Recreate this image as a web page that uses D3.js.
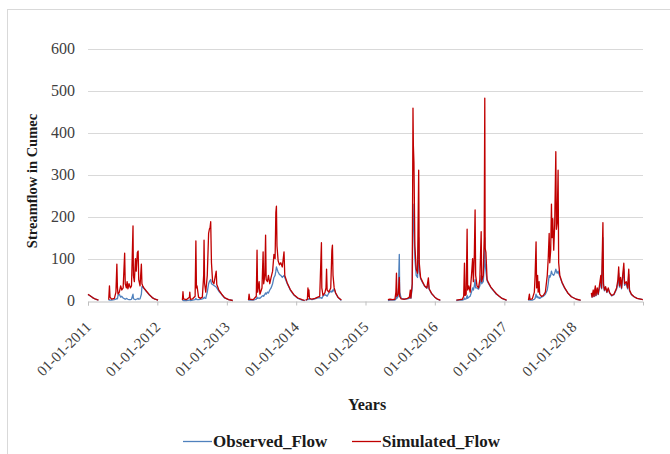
<!DOCTYPE html>
<html>
<head>
<meta charset="utf-8">
<script src="https://cdn.jsdelivr.net/npm/d3@7"></script>
<style>
  body { margin: 0; background: #fff; }
  svg { display: block; font-family: "Liberation Serif", "Times New Roman", serif; }
</style>
</head>
<body>
<div id="chart"></div>
<script>
// rows: [date, observed, simulated] (cumec) - one array per flow season, gaps between them
var season2011a = [
  ["2011-01-01", 14, 15], ["2011-01-10", 12, 12], ["2011-01-25", 7, 7], ["2011-02-10", 3, 3], ["2011-02-25", 1, 1]
];
var season2011b = [
  ["2011-04-20", 0, 2], ["2011-04-24", 2, 35], ["2011-04-27", 1, 8], ["2011-05-05", 1, 3], ["2011-05-20", 2, 5],
  ["2011-05-28", 3, 20], ["2011-06-02", 5, 87], ["2011-06-05", 4, 30], ["2011-06-08", 12, 15], ["2011-06-15", 15, 20],
  ["2011-06-22", 8, 35], ["2011-06-28", 10, 25], ["2011-07-05", 6, 30], ["2011-07-13", 4, 113], ["2011-07-16", 3, 40],
  ["2011-07-22", 5, 30], ["2011-07-26", 4, 45], ["2011-07-30", 3, 28], ["2011-08-05", 2, 40], ["2011-08-12", 2, 30],
  ["2011-08-18", 3, 35], ["2011-08-26", 15, 178], ["2011-08-28", 5, 60], ["2011-09-02", 3, 45], ["2011-09-08", 2, 100],
  ["2011-09-12", 3, 70], ["2011-09-18", 4, 115], ["2011-09-22", 5, 118], ["2011-09-25", 3, 50], ["2011-10-02", 4, 35],
  ["2011-10-09", 15, 87], ["2011-10-12", 33, 40], ["2011-10-16", 33, 35], ["2011-10-22", 29, 30], ["2011-11-05", 21, 22],
  ["2011-11-20", 13, 14], ["2011-12-05", 7, 7], ["2011-12-20", 3, 3], ["2012-01-05", 1, 1]
];
var season2012 = [
  ["2012-05-12", 0, 1], ["2012-05-15", 1, 21], ["2012-05-18", 0, 4], ["2012-06-01", 0, 2], ["2012-06-18", 1, 8],
  ["2012-06-20", 1, 20], ["2012-06-23", 0, 3], ["2012-07-05", 1, 4], ["2012-07-18", 2, 10], ["2012-07-22", 5, 142],
  ["2012-07-25", 3, 30], ["2012-07-28", 2, 35], ["2012-08-05", 2, 8], ["2012-08-15", 3, 5], ["2012-08-25", 4, 8],
  ["2012-09-01", 5, 60], ["2012-09-03", 8, 144], ["2012-09-06", 6, 40], ["2012-09-12", 5, 20], ["2012-09-20", 20, 60],
  ["2012-09-27", 40, 160], ["2012-10-01", 45, 170], ["2012-10-05", 48, 175], ["2012-10-08", 50, 188], ["2012-10-12", 40, 90],
  ["2012-10-18", 38, 45], ["2012-10-25", 36, 40], ["2012-11-06", 32, 70], ["2012-11-09", 30, 38], ["2012-11-20", 22, 25],
  ["2012-12-05", 14, 15], ["2012-12-20", 6, 7], ["2013-01-10", 2, 2], ["2013-02-01", 0, 0]
];
var season2013 = [
  ["2013-04-25", 0, 1], ["2013-04-28", 2, 15], ["2013-05-02", 1, 3], ["2013-05-20", 1, 2], ["2013-06-05", 3, 10],
  ["2013-06-09", 8, 120], ["2013-06-12", 5, 20], ["2013-06-20", 6, 45], ["2013-06-24", 5, 15], ["2013-07-05", 10, 30],
  ["2013-07-11", 12, 116], ["2013-07-14", 10, 40], ["2013-07-20", 15, 60], ["2013-07-24", 18, 156], ["2013-07-27", 15, 50],
  ["2013-08-03", 20, 45], ["2013-08-08", 18, 60], ["2013-08-15", 25, 40], ["2013-08-22", 30, 55], ["2013-08-30", 40, 70],
  ["2013-09-06", 55, 110], ["2013-09-12", 60, 100], ["2013-09-16", 70, 210], ["2013-09-19", 80, 225], ["2013-09-22", 75, 130],
  ["2013-09-28", 68, 95], ["2013-10-05", 62, 85], ["2013-10-12", 60, 90], ["2013-10-20", 55, 80], ["2013-10-29", 60, 116],
  ["2013-11-02", 55, 60], ["2013-11-15", 40, 42], ["2013-12-01", 25, 26], ["2013-12-20", 13, 14], ["2014-01-10", 5, 6],
  ["2014-02-01", 1, 2], ["2014-02-15", 0, 0]
];
var season2014 = [
  ["2014-02-20", 0, 1], ["2014-03-01", 2, 3], ["2014-03-04", 3, 30], ["2014-03-06", 4, 10], ["2014-03-09", 2, 25],
  ["2014-03-12", 4, 5], ["2014-03-25", 2, 3], ["2014-04-10", 4, 5], ["2014-04-25", 6, 8], ["2014-05-05", 7, 10],
  ["2014-05-14", 6, 138], ["2014-05-16", 5, 30], ["2014-05-22", 10, 12], ["2014-06-01", 14, 18], ["2014-06-07", 12, 30],
  ["2014-06-10", 12, 75], ["2014-06-13", 10, 25], ["2014-06-22", 18, 20], ["2014-07-02", 22, 30], ["2014-07-08", 20, 120],
  ["2014-07-11", 25, 132], ["2014-07-14", 22, 60], ["2014-07-20", 28, 30], ["2014-07-28", 17, 18], ["2014-08-10", 7, 7],
  ["2014-08-27", 0, 1]
];
var season2015 = [
  ["2015-04-29", 0, 2], ["2015-05-10", 1, 3], ["2015-05-25", 1, 2], ["2015-06-05", 1, 3], ["2015-06-10", 3, 20],
  ["2015-06-13", 10, 65], ["2015-06-15", 5, 10], ["2015-06-22", 10, 15], ["2015-06-28", 110, 55], ["2015-06-30", 20, 10],
  ["2015-07-08", 5, 4], ["2015-07-25", 3, 3], ["2015-08-10", 4, 5], ["2015-08-20", 5, 8], ["2015-08-25", 10, 25],
  ["2015-08-28", 5, 6], ["2015-09-04", 30, 40], ["2015-09-08", 230, 459], ["2015-09-10", 200, 370], ["2015-09-13", 180, 330],
  ["2015-09-18", 100, 130], ["2015-09-25", 60, 75], ["2015-10-02", 55, 65], ["2015-10-08", 150, 311], ["2015-10-11", 70, 90],
  ["2015-10-18", 52, 55], ["2015-10-28", 43, 45], ["2015-11-08", 34, 35], ["2015-11-20", 29, 30], ["2015-11-28", 40, 54],
  ["2015-12-02", 27, 28], ["2015-12-15", 16, 17], ["2016-01-01", 8, 8], ["2016-01-15", 3, 3], ["2016-01-30", 0, 1]
];
var season2016 = [
  ["2016-04-23", 0, 1], ["2016-05-10", 1, 2], ["2016-05-25", 1, 3], ["2016-06-01", 2, 10], ["2016-06-05", 6, 89],
  ["2016-06-08", 3, 12], ["2016-06-14", 4, 15], ["2016-06-19", 12, 170], ["2016-06-22", 5, 25], ["2016-06-28", 8, 35],
  ["2016-07-05", 10, 20], ["2016-07-12", 20, 60], ["2016-07-18", 30, 100], ["2016-07-22", 25, 45], ["2016-07-27", 35, 110],
  ["2016-07-31", 50, 216], ["2016-08-03", 30, 60], ["2016-08-10", 30, 35], ["2016-08-18", 27, 30], ["2016-08-25", 35, 50],
  ["2016-09-01", 60, 164], ["2016-09-04", 40, 45], ["2016-09-12", 45, 60], ["2016-09-17", 80, 150], ["2016-09-20", 150, 483],
  ["2016-09-22", 90, 125], ["2016-09-26", 70, 115], ["2016-10-02", 47, 50], ["2016-10-10", 40, 42], ["2016-10-22", 31, 32],
  ["2016-11-05", 23, 24], ["2016-11-20", 15, 16], ["2016-12-05", 10, 10], ["2016-12-20", 5, 5], ["2017-01-13", 0, 1]
];
var season2017 = [
  ["2017-05-08", 0, 1], ["2017-05-13", 2, 15], ["2017-05-16", 1, 3], ["2017-05-28", 1, 4], ["2017-06-08", 3, 20],
  ["2017-06-12", 5, 60], ["2017-06-17", 15, 140], ["2017-06-20", 8, 30], ["2017-06-25", 10, 60], ["2017-06-28", 6, 20],
  ["2017-07-03", 8, 45], ["2017-07-06", 5, 15], ["2017-07-15", 8, 10], ["2017-07-25", 10, 12], ["2017-08-05", 15, 20],
  ["2017-08-15", 25, 60], ["2017-08-20", 40, 100], ["2017-08-25", 60, 160], ["2017-08-28", 55, 90], ["2017-09-02", 60, 120],
  ["2017-09-06", 70, 230], ["2017-09-09", 65, 150], ["2017-09-13", 62, 195], ["2017-09-18", 60, 120], ["2017-09-23", 65, 180],
  ["2017-09-29", 75, 355], ["2017-10-02", 70, 170], ["2017-10-06", 65, 185], ["2017-10-11", 70, 311], ["2017-10-14", 65, 90],
  ["2017-10-20", 57, 60], ["2017-11-01", 42, 43], ["2017-11-15", 29, 30], ["2017-12-01", 18, 18], ["2017-12-20", 9, 9],
  ["2018-01-15", 3, 3], ["2018-02-07", 0, 1]
];
var season2018 = [
  ["2018-04-04", 15, 18], ["2018-04-08", 8, 8], ["2018-04-14", 20, 25], ["2018-04-18", 9, 10], ["2018-04-25", 28, 35],
  ["2018-04-28", 11, 12], ["2018-05-05", 25, 30], ["2018-05-10", 14, 15], ["2018-05-18", 32, 40], ["2018-05-24", 45, 60],
  ["2018-05-28", 28, 30], ["2018-06-01", 90, 120], ["2018-06-04", 150, 186], ["2018-06-07", 35, 40], ["2018-06-12", 23, 25],
  ["2018-06-18", 30, 33], ["2018-06-25", 19, 20], ["2018-07-02", 27, 30], ["2018-07-10", 17, 18], ["2018-07-20", 11, 12],
  ["2018-08-01", 14, 15], ["2018-08-15", 27, 30], ["2018-08-22", 42, 50], ["2018-08-26", 65, 80], ["2018-08-30", 32, 35],
  ["2018-09-05", 48, 55], ["2018-09-10", 28, 30], ["2018-09-16", 52, 60], ["2018-09-22", 75, 89], ["2018-09-26", 36, 40],
  ["2018-10-05", 40, 45], ["2018-10-12", 28, 30], ["2018-10-18", 62, 75], ["2018-10-22", 23, 25], ["2018-11-01", 14, 15],
  ["2018-11-15", 9, 9], ["2018-12-01", 5, 5], ["2018-12-31", 2, 2]
];

var seasons = [season2011a, season2011b, season2012, season2013, season2014, season2015, season2016, season2017, season2018];
var yearTicks = ["2011-01-01", "2012-01-01", "2013-01-01", "2014-01-01", "2015-01-01", "2016-01-01", "2017-01-01", "2018-01-01"];
var flowTicks = [0, 100, 200, 300, 400, 500, 600];
var seriesNames = ["Observed_Flow", "Simulated_Flow"];
var seriesColors = ["#4f81bd", "#c00000"];

var width = 670;
var height = 454;
var parseDate = d3.timeParse("%Y-%m-%d");
var fmtDate = d3.timeFormat("%d-%m-%Y");

var svg = d3.select("#chart")
  .append("svg")
  .attr("width", width)
  .attr("height", height);

// light frame round the whole figure
svg.append("rect")
  .attr("x", 7.5).attr("y", 9.5)
  .attr("width", 680).attr("height", 470)
  .attr("fill", "none")
  .attr("stroke", "#d9d9d9");

var x = d3.scaleTime()
  .domain([parseDate("2011-01-01"), parseDate("2019-01-01")])
  .range([88, 643]);

var y = d3.scaleLinear()
  .domain([0, 600])
  .range([300.5, 49]);

function drawGrid() {
  svg.append("g")
    .selectAll("line")
    .data(flowTicks.filter(function (d) { return d > 0; }))
    .enter().append("line")
    .attr("x1", x.range()[0]).attr("x2", x.range()[1])
    .attr("y1", function (d) { return Math.round(y(d)) + 0.5; })
    .attr("y2", function (d) { return Math.round(y(d)) + 0.5; })
    .attr("stroke", "#d9d9d9");

  svg.append("g")
    .selectAll("text")
    .data(flowTicks)
    .enter().append("text")
    .attr("x", 75)
    .attr("y", function (d) { return y(d) + 5; })
    .attr("text-anchor", "end")
    .style("font-size", "16px")
    .style("fill", "#404040")
    .text(function (d) { return d; });
}

function drawXAxis() {
  var ticks = yearTicks.map(parseDate);
  var axis = svg.append("g")
    .attr("transform", "translate(0," + (Math.round(y(0)) + 0.5) + ")")
    .call(d3.axisBottom(x).tickValues(ticks).tickSize(4).tickFormat(""));
  axis.select(".domain").attr("stroke", "#bfbfbf");
  axis.selectAll(".tick line").attr("stroke", "#bfbfbf");

  svg.append("g")
    .selectAll("text")
    .data(ticks)
    .enter().append("text")
    .attr("transform", function (d) { return "translate(" + (x(d) + 4) + ",328) rotate(-45)"; })
    .attr("text-anchor", "end")
    .style("font-size", "15px")
    .style("fill", "#404040")
    .text(function (d) { return fmtDate(d); });
}

function drawSeries() {
  var lineObs = d3.line()
    .x(function (d) { return x(parseDate(d[0])); })
    .y(function (d) { return y(d[1]); });
  var lineSim = d3.line()
    .x(function (d) { return x(parseDate(d[0])); })
    .y(function (d) { return y(d[2]); });

  svg.append("g")
    .selectAll("path")
    .data(seasons)
    .enter().append("path")
    .attr("d", lineObs)
    .attr("fill", "none")
    .attr("stroke", seriesColors[0])
    .attr("stroke-width", 1.3)
    .attr("stroke-linejoin", "round");

  svg.append("g")
    .selectAll("path")
    .data(seasons)
    .enter().append("path")
    .attr("d", lineSim)
    .attr("fill", "none")
    .attr("stroke", seriesColors[1])
    .attr("stroke-width", 1.3)
    .attr("stroke-linejoin", "round");
}

function drawTitles() {
  svg.append("text")
    .attr("transform", "translate(37,181) rotate(-90)")
    .attr("text-anchor", "middle")
    .style("font-size", "14.5px")
    .style("font-weight", "bold")
    .style("fill", "#1a1a1a")
    .text("Streamflow in Cumec");

  svg.append("text")
    .attr("x", 367).attr("y", 410)
    .attr("text-anchor", "middle")
    .style("font-size", "16px")
    .style("font-weight", "bold")
    .style("fill", "#1a1a1a")
    .text("Years");
}

function drawLegend() {
  var items = [{ x: 183, i: 0 }, { x: 352, i: 1 }];
  var g = svg.append("g").selectAll("g")
    .data(items)
    .enter().append("g")
    .attr("transform", function (d) { return "translate(" + d.x + ",441)"; });
  g.append("line")
    .attr("x1", 0).attr("x2", 29)
    .attr("y1", 0.5).attr("y2", 0.5)
    .attr("stroke", function (d) { return seriesColors[d.i]; })
    .attr("stroke-width", 1.3);
  g.append("text")
    .attr("x", 30).attr("y", 6)
    .style("font-size", "17px")
    .style("font-weight", "bold")
    .style("fill", "#1a1a1a")
    .text(function (d) { return seriesNames[d.i]; });
}

drawGrid();
drawXAxis();
drawSeries();
drawTitles();
drawLegend();
</script>
</body>
</html>
